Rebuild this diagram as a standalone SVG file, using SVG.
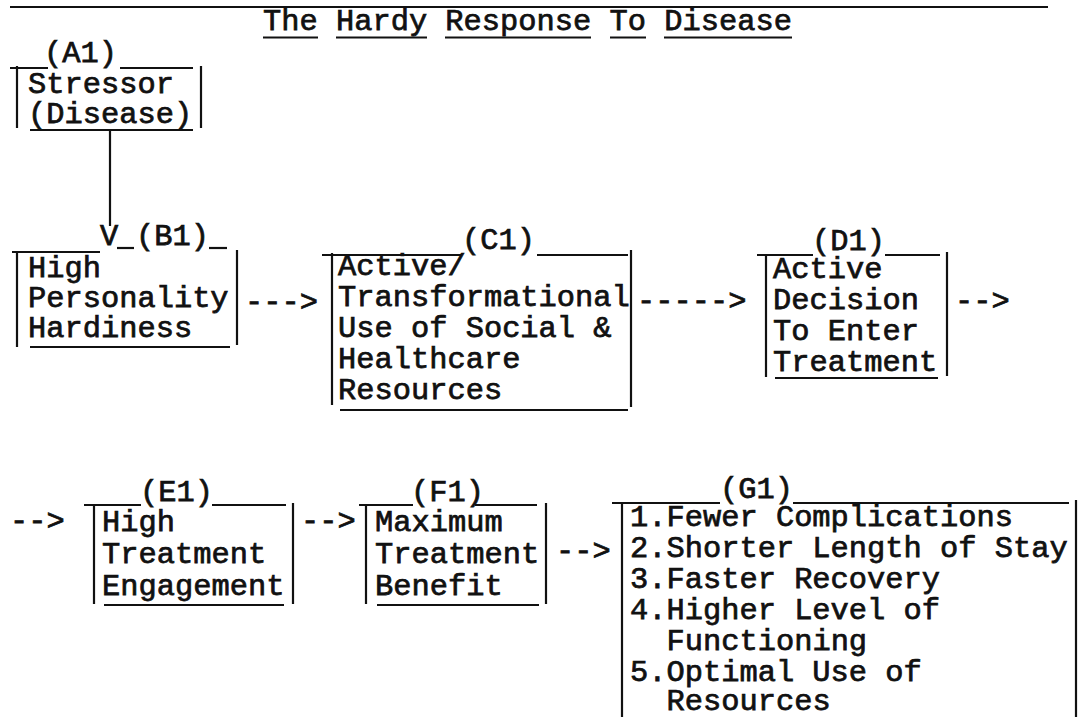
<svg xmlns="http://www.w3.org/2000/svg" width="1080" height="717" viewBox="0 0 1080 717">
  <style>
    .t { font-family: "Liberation Mono", "Courier New", monospace; font-size: 30.4px; font-weight: normal; fill: #111; stroke: #111; stroke-width: 0.75; }
    .ln { stroke: #111; stroke-width: 2.2; fill: none; stroke-linecap: butt; }
  </style>
  <rect width="1080" height="717" fill="#fff"/>

  <!-- title with rule above and word underlines -->
  <g id="title">
    <line class="ln" x1="10" y1="7" x2="1048" y2="7"/>
    <text class="t" x="263" y="30">The Hardy Response To Disease</text>
    <line class="ln" x1="263" y1="37.5" x2="318" y2="37.5"/>
    <line class="ln" x1="336" y1="37.5" x2="427" y2="37.5"/>
    <line class="ln" x1="445" y1="37.5" x2="591" y2="37.5"/>
    <line class="ln" x1="610" y1="37.5" x2="646" y2="37.5"/>
    <line class="ln" x1="664" y1="37.5" x2="792" y2="37.5"/>
  </g>

  <!-- A1: stressor -->
  <g id="A1">
    <text class="t" x="44" y="62">(A1)</text>
    <line class="ln" x1="10" y1="68" x2="48" y2="68"/>
    <line class="ln" x1="120" y1="68" x2="193" y2="68"/>
    <line class="ln" x1="17" y1="66" x2="17" y2="128"/>
    <line class="ln" x1="201" y1="66" x2="201" y2="128"/>
    <text class="t" x="28" y="93">Stressor</text>
    <text class="t" x="28" y="123">(Disease)</text>
    <line class="ln" x1="30" y1="130" x2="193" y2="130"/>
  </g>

  <!-- B1: personality hardiness -->
  <g id="B1">
    <line class="ln" x1="12" y1="252" x2="100" y2="252"/>
    <line class="ln" x1="117" y1="248" x2="134" y2="248"/>
    <text class="t" x="136" y="245">(B1)</text>
    <line class="ln" x1="209" y1="248" x2="227" y2="248"/>
    <line class="ln" x1="17" y1="252" x2="17" y2="347"/>
    <line class="ln" x1="237" y1="250" x2="237" y2="345"/>
    <text class="t" x="28" y="277">High</text>
    <text class="t" x="28" y="307">Personality</text>
    <text class="t" x="28" y="337">Hardiness</text>
    <line class="ln" x1="30" y1="347" x2="230" y2="347"/>
  </g>

  <!-- C1: use of resources -->
  <g id="C1">
    <line class="ln" x1="322" y1="255" x2="462" y2="255"/>
    <text class="t" x="462" y="249">(C1)</text>
    <line class="ln" x1="537" y1="255" x2="628" y2="255"/>
    <line class="ln" x1="332" y1="253" x2="332" y2="405"/>
    <line class="ln" x1="631" y1="250" x2="631" y2="407"/>
    <text class="t" x="338" y="275">Active/</text>
    <text class="t" x="338" y="306">Transformational</text>
    <text class="t" x="338" y="337">Use of Social &amp;</text>
    <text class="t" x="338" y="368">Healthcare</text>
    <text class="t" x="338" y="399">Resources</text>
    <line class="ln" x1="340" y1="410" x2="628" y2="410"/>
  </g>

  <!-- D1: decision to enter treatment -->
  <g id="D1">
    <line class="ln" x1="757" y1="255" x2="813" y2="255"/>
    <text class="t" x="812" y="250">(D1)</text>
    <line class="ln" x1="885" y1="255" x2="940" y2="255"/>
    <line class="ln" x1="766" y1="255" x2="766" y2="377"/>
    <line class="ln" x1="947" y1="252" x2="947" y2="376"/>
    <text class="t" x="773" y="278">Active</text>
    <text class="t" x="773" y="309">Decision</text>
    <text class="t" x="773" y="340">To Enter</text>
    <text class="t" x="773" y="371">Treatment</text>
    <line class="ln" x1="775" y1="378" x2="938" y2="378"/>
  </g>

  <!-- E1: treatment engagement -->
  <g id="E1">
    <line class="ln" x1="84" y1="505" x2="141" y2="505"/>
    <text class="t" x="140" y="501">(E1)</text>
    <line class="ln" x1="212" y1="505" x2="286" y2="505"/>
    <line class="ln" x1="94" y1="505" x2="94" y2="604"/>
    <line class="ln" x1="293" y1="503" x2="293" y2="604"/>
    <text class="t" x="102" y="531">High</text>
    <text class="t" x="102" y="563">Treatment</text>
    <text class="t" x="102" y="595">Engagement</text>
    <line class="ln" x1="104" y1="605" x2="284" y2="605"/>
  </g>

  <!-- F1: treatment benefit -->
  <g id="F1">
    <line class="ln" x1="359" y1="505" x2="413" y2="505"/>
    <text class="t" x="411" y="501">(F1)</text>
    <line class="ln" x1="475" y1="505" x2="537" y2="505"/>
    <line class="ln" x1="366" y1="505" x2="366" y2="604"/>
    <line class="ln" x1="546" y1="503" x2="546" y2="604"/>
    <text class="t" x="375" y="531">Maximum</text>
    <text class="t" x="375" y="563">Treatment</text>
    <text class="t" x="375" y="595">Benefit</text>
    <line class="ln" x1="377" y1="605" x2="539" y2="605"/>
  </g>

  <!-- G1: outcomes -->
  <g id="G1">
    <line class="ln" x1="612" y1="503" x2="720" y2="503"/>
    <text class="t" x="720" y="498">(G1)</text>
    <line class="ln" x1="793" y1="503" x2="1069" y2="503"/>
    <line class="ln" x1="622" y1="503" x2="622" y2="717"/>
    <line class="ln" x1="1076" y1="500" x2="1076" y2="717"/>
    <text class="t" x="630" y="526">1.Fewer Complications</text>
    <text class="t" x="630" y="557">2.Shorter Length of Stay</text>
    <text class="t" x="630" y="588">3.Faster Recovery</text>
    <text class="t" x="630" y="619">4.Higher Level of</text>
    <text class="t" x="666.5" y="650">Functioning</text>
    <text class="t" x="630" y="681">5.Optimal Use of</text>
    <text class="t" x="666.5" y="710">Resources</text>
  </g>

  <!-- connectors: typed dash arrows and the drop line with its V head -->
  <g id="connectors">
    <line class="ln" x1="110" y1="130" x2="110" y2="226"/>
    <text class="t" x="100" y="245">V</text>
    <text class="t" x="245" y="311">---&gt;</text>
    <text class="t" x="637" y="310">-----&gt;</text>
    <text class="t" x="955" y="310">--&gt;</text>
    <text class="t" x="10" y="530">--&gt;</text>
    <text class="t" x="301" y="530">--&gt;</text>
    <text class="t" x="556" y="560">--&gt;</text>
  </g>
</svg>
